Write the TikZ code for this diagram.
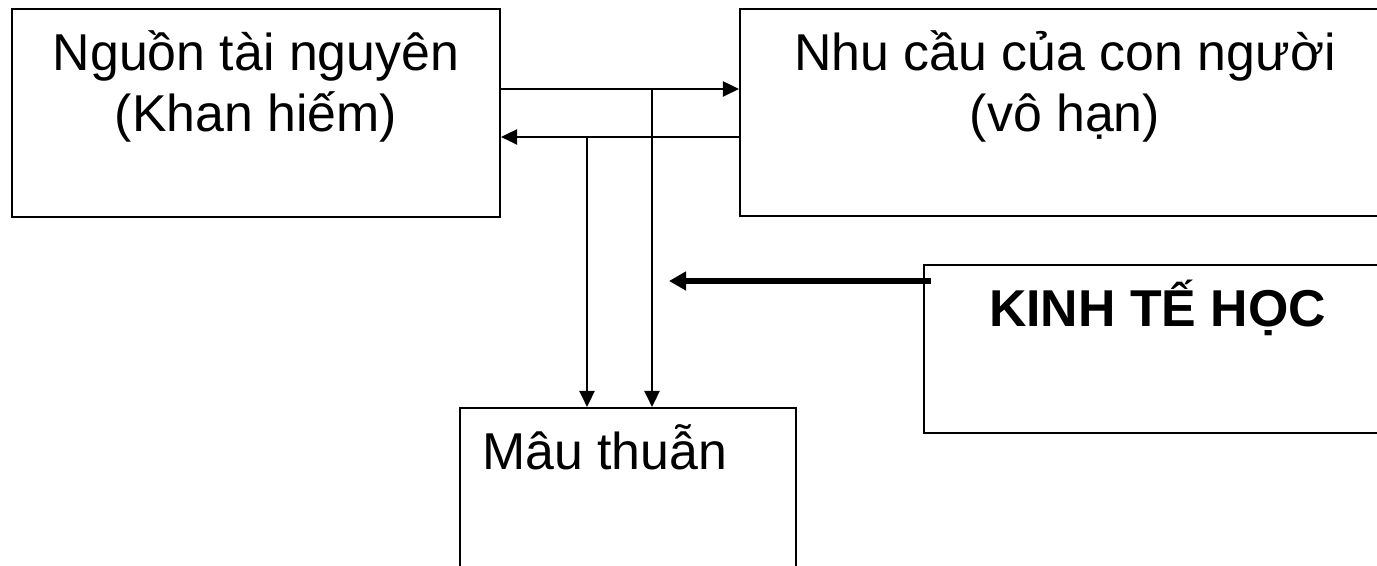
\documentclass[tikz,border=0pt]{standalone}
\usepackage{fontspec}
\setmainfont{Liberation Sans}
\usetikzlibrary{arrows.meta}
\definecolor{lineblk}{RGB}{0,0,0}

\begin{document}
\begin{tikzpicture}[
    box/.style={draw=lineblk, line width=1.2pt, rectangle, inner sep=0pt},
    txt/.style={anchor=base, align=center, inner sep=0pt,
        font=\fontsize{29.5}{35.2}\selectfont},
    arr/.style={draw=lineblk, line width=1.5pt,
        -{Triangle[length=0.32cm, width=0.3cm]}},
    bigarr/.style={draw=lineblk, line width=3.4pt,
        -{Triangle[length=0.34cm, width=0.36cm]}}]
    % \draw[help lines, gray] (0, 0) grid (28, 12);
    \clip (0, 0) rectangle (27.54, 11.32);

    % the four boxes
    \node[box, minimum width=9.76cm, minimum height=4.16cm] (res)  at (5.12, 9.06)  {};
    \node[box, minimum width=13cm,   minimum height=4.14cm] (need) at (21.3, 9.07)  {};
    \node[box, minimum width=9.34cm, minimum height=3.36cm] (econ) at (23.15, 4.34) {};
    \node[box, minimum width=6.72cm, minimum height=4.16cm] (clash) at (12.56, 1.08) {};

    % base sits on the last line
    \node[txt] (resT)  at (5.12, 8.68)  {Nguồn tài nguyên\\(Khan hiếm)};
    \node[txt] (needT) at (21.3, 8.68)  {Nhu cầu của con người\\(vô hạn)};
    \node[txt, font=\fontsize{29.5}{35.2}\selectfont\bfseries] (econT) at (23.15, 4.78) {KINH TẾ HỌC};
    \node[txt, anchor=base west] (clashT) at (9.64, 1.92) {Mâu thuẫn};

    % arrows between the boxes
    \coordinate (forkA) at (13.04, 9.54);
    \coordinate (forkB) at (11.74, 8.58);
    \coordinate (tipK)  at (13.38, 5.70);

    \draw[arr] (forkA -| res.east) -- (forkA -| need.west);
    \draw[arr] (forkB -| need.west) -- (forkB -| res.east);
    \draw[arr] (forkA) -- (forkA |- clash.north);
    \draw[arr] (forkB) -- (forkB |- clash.north);
    \draw[bigarr] ([xshift=0.16cm]econ.west |- tipK) -- (tipK);
\end{tikzpicture}
\end{document}
